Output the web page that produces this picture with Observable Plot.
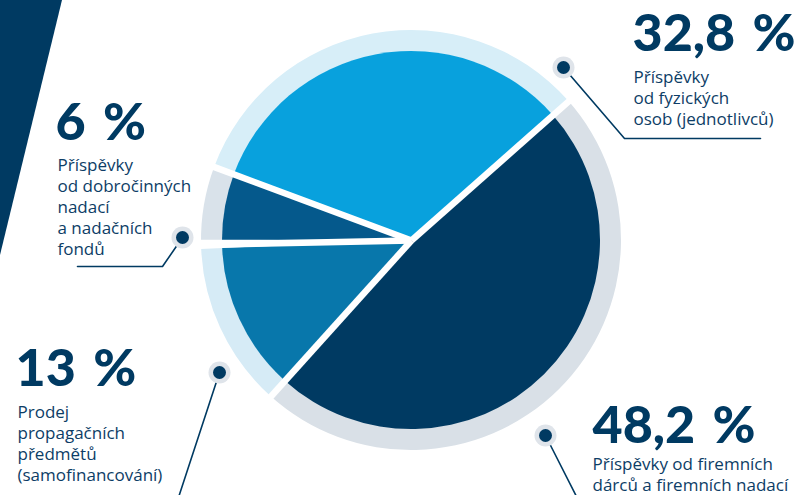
<!DOCTYPE html>
<html><head><meta charset="utf-8">
<script src="https://cdn.jsdelivr.net/npm/d3@7"></script>
<script src="https://cdn.jsdelivr.net/npm/@observablehq/plot@0.6"></script>
<style>
html,body{margin:0;padding:0;background:#fff;overflow:hidden}
#wrap{position:relative;width:803px;height:495px}
#band{position:absolute;left:0;top:0;width:62px;height:255px;background:#003a62;clip-path:polygon(0 0,100% 0,0 100%)}
#wrap svg{position:absolute;left:0;top:0}
</style></head><body><div id="wrap"><div id="band"></div></div>
<script>
// ---- data ----
const categories = [
  "Příspěvky od firemních dárců a firemních nadací",
  "Prodej propagačních předmětů (samofinancování)",
  "Příspěvky od dobročinných nadací a nadačních fondů",
  "Příspěvky od fyzických osob (jednotlivců)"
];
const values = [48.2, 13, 6, 32.8];
const percentLabels = ["48,2 %", "13 %", "6 %", "32,8 %"];
const labelLines = [
  ["Příspěvky od firemních", "dárců a firemních nadací"],
  ["Prodej", "propagačních", "předmětů", "(samofinancování)"],
  ["Příspěvky", "od dobročinných", "nadací", "a nadačních", "fondů"],
  ["Příspěvky", "od fyzických", "osob (jednotlivců)"]
];

// ---- styles & layout ----
const navy = "#003a62";
const sliceColors = ["#003a62", "#0877ab", "#05598c", "#08a1dd"];
const ringColors = ["#d9e0e7", "#d6ebf6", "#d9e2ea", "#d7eef8"];
const center = [411, 240];
const rInner = 189, rOuter = 210;
const startDeg = 48.5;
const wedgeDeg = [0, 0, 2.5, 0]; // extra white wedge at the start boundary of slice i
const pctPos = [[592, 442], [15, 385], [55, 139], [632, 50]];   // baselines
const bodyPos = [[592, 467], [17, 415], [57, 168], [633, 80]];  // first baselines
const leaders = [
  [[545, 435], [578, 500]],
  [[219, 372], [177, 500]],
  [[182, 237], [162, 266], [77, 266]],
  [[563, 67], [624, 138], [760, 138]]
];

const data = categories.map((c, i) => ({category: c, value: values[i], pct: percentLabels[i], lines: labelLines[i], i}));
const arcs = d3.pie().sort(null).value(d => d.value)
  .startAngle(startDeg * Math.PI / 180).endAngle(startDeg * Math.PI / 180 + 2 * Math.PI)(data);

function pieMark(index, scales) {
  const cx = scales.x(center[0]), cy = scales.y(center[1]);
  const k = scales.x(center[0] + 1) - cx;
  const g = d3.create("svg:g").attr("transform", `translate(${cx},${cy})`);
  const ring = d3.arc().innerRadius(rInner * k - 0.5).outerRadius(rOuter * k);
  const slice = d3.arc().innerRadius(0).outerRadius(rInner * k);
  g.selectAll("path.r").data(arcs).join("path").attr("class", "r")
    .attr("d", ring).attr("fill", d => ringColors[d.data.i]);
  g.selectAll("path.s").data(arcs).join("path").attr("class", "s")
    .attr("d", slice).attr("fill", d => sliceColors[d.data.i]);
  const wedge = d3.arc().innerRadius(0).outerRadius((rOuter + 6) * k);
  g.selectAll("path.w").data(arcs.filter(a => wedgeDeg[a.data.i] > 0)).join("path").attr("class", "w")
    .attr("d", a => wedge({startAngle: a.startAngle - wedgeDeg[a.data.i] * Math.PI / 360,
                           endAngle: a.startAngle + wedgeDeg[a.data.i] * Math.PI / 360}))
    .attr("fill", "white");
  return g.node();
}

const sepR = rOuter + 6;
const seps = arcs.map(a => ({
  x2: center[0] + sepR * Math.sin(a.startAngle),
  y2: center[1] - sepR * Math.cos(a.startAngle)
}));

const leaderPts = leaders.flatMap((pts, i) => pts.map(p => ({x: p[0], y: p[1], z: i})));
const dots = leaders.map((pts, i) => ({x: pts[0][0], y: pts[0][1]}));

const pctFs = 52, bodyFs = 17, lh = 21;
const pctItems = data.map((d, i) => ({x: pctPos[i][0], y: pctPos[i][1] - 0.71 * pctFs, t: d.pct.replace(" ", "\u2004")}));
const bodyItems = data.map((d, i) => ({x: bodyPos[i][0], y: bodyPos[i][1] - 0.71 * bodyFs, t: d.lines.join("\n")}));

const chart = Plot.plot({
  width: 803, height: 495,
  margin: 0,
  style: {background: "transparent", overflow: "visible"},
  x: {domain: [0, 803], range: [0, 803], axis: null},
  y: {domain: [0, 495], range: [0, 495], axis: null},
  marks: [
    pieMark,
    Plot.link(seps, {x1: center[0], y1: center[1], x2: "x2", y2: "y2", stroke: "white", strokeWidth: 6.5}),
    Plot.line(leaderPts, {x: "x", y: "y", z: "z", stroke: navy, strokeWidth: 1.6}),
    Plot.dot(dots, {x: "x", y: "y", r: 11, fill: "#dfe4ea"}),
    Plot.dot(dots, {x: "x", y: "y", r: 6.5, fill: navy}),
    Plot.text(pctItems, {x: "x", y: "y", text: "t", textAnchor: "start", lineAnchor: "top",
      fontSize: pctFs, fontWeight: 900, fontFamily: "Lato", fill: navy, letterSpacing: 0.5}),
    Plot.text(bodyItems, {x: "x", y: "y", text: "t", textAnchor: "start", lineAnchor: "top",
      lineHeight: lh / bodyFs, fontSize: bodyFs, fontFamily: "Open Sans", fill: "#0d3d66", letterSpacing: 0.4})
  ]
});
document.getElementById("wrap").appendChild(chart);
</script>
</body></html>
